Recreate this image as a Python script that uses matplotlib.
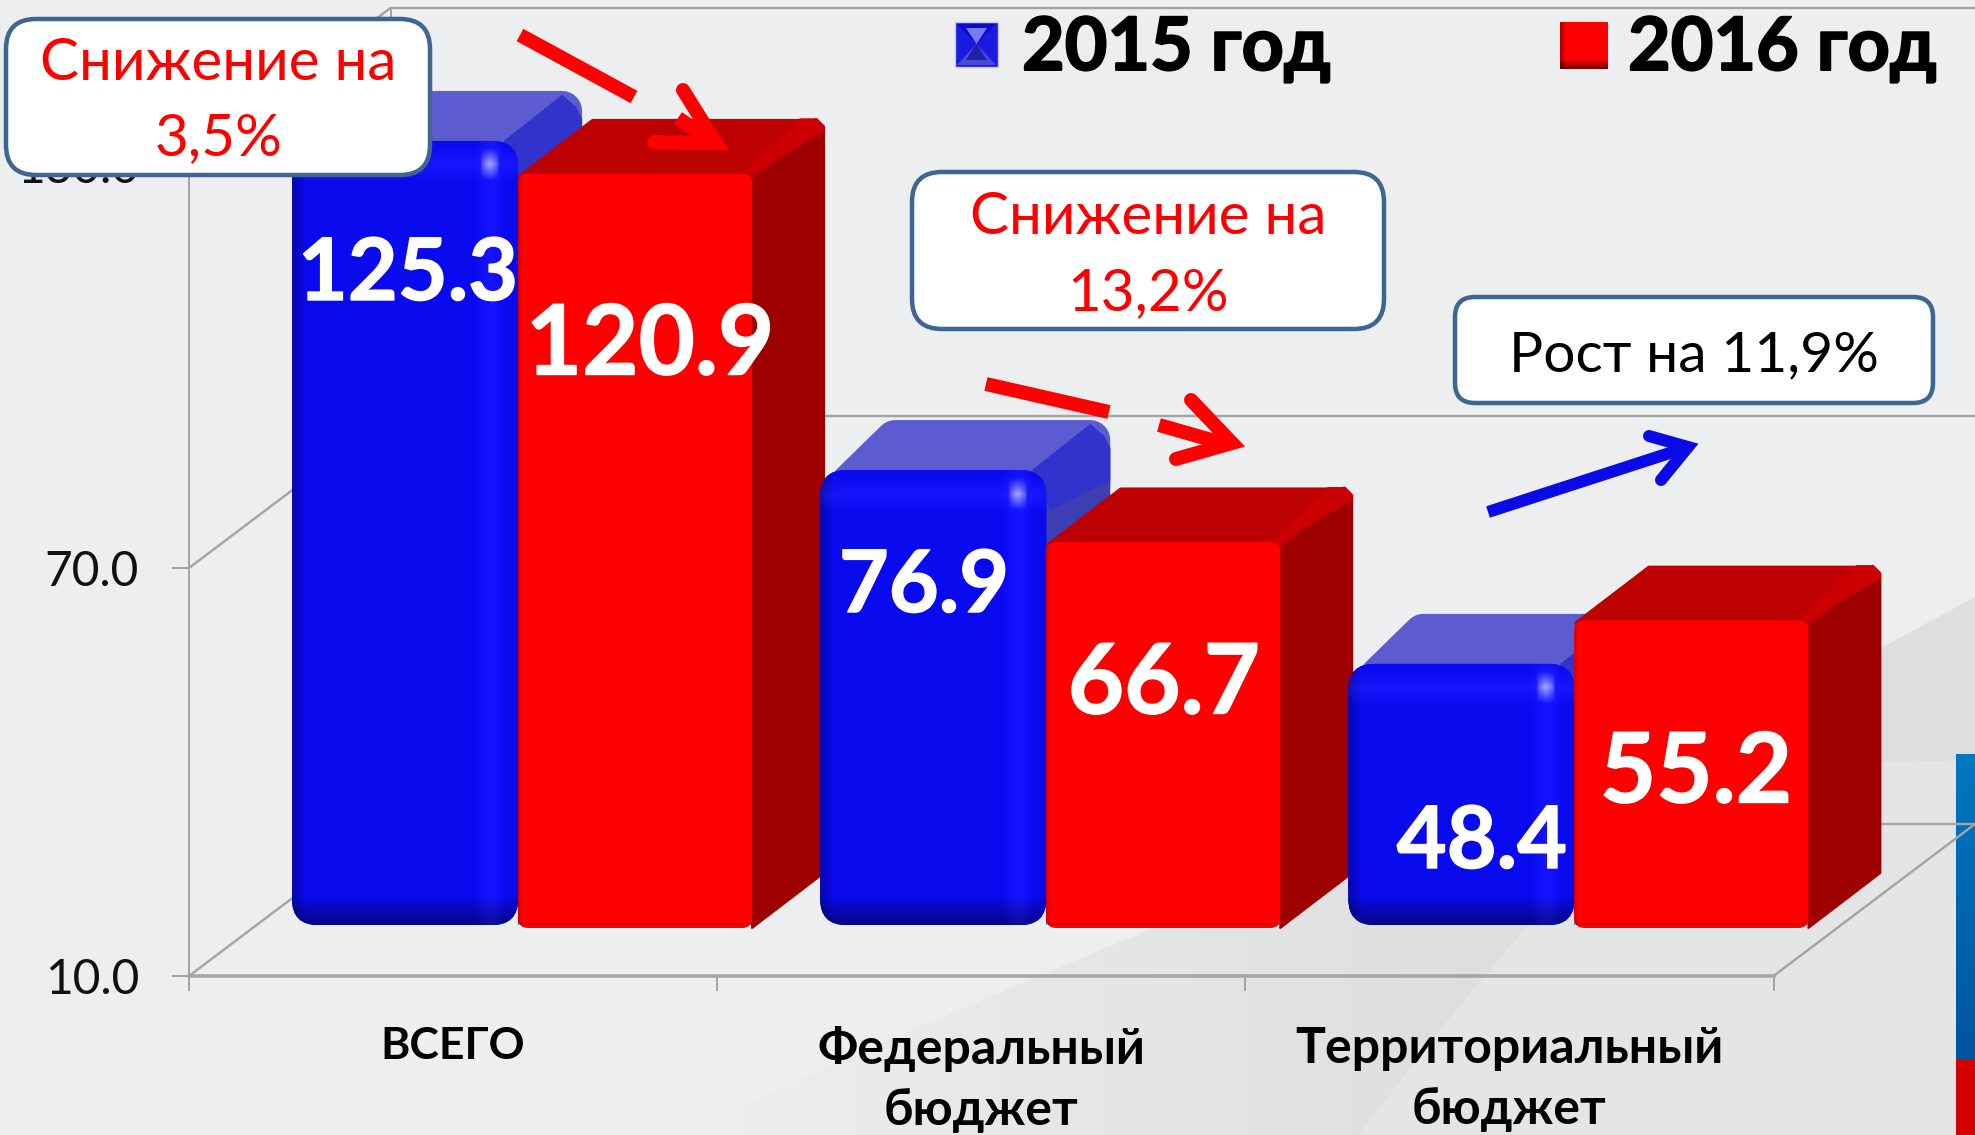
import numpy as np
import matplotlib
matplotlib.use("Agg")
import matplotlib.pyplot as plt
import matplotlib.patheffects as pe
from matplotlib.patches import FancyBboxPatch, Polygon, Rectangle
from matplotlib.transforms import Affine2D

# ---- data ----
categories = ["ВСЕГО", "Федеральный\nбюджет", "Территориальный\nбюджет"]
values_2015 = [125.3, 76.9, 48.4]
values_2016 = [120.9, 66.7, 55.2]
series_names = ["2015 год", "2016 год"]
y_ticks = [10.0, 70.0, 130.0]
callout_lines = ["Снижение на\n3,5%", "Снижение на\n13,2%", "Рост на 11,9%"]

# ---- layout (pixels of the 1975x1135 picture) ----
W, H = 1975, 1135
FL, FR, FB, FT = 189.0, 1773.5, 976.0, 160.0     # front plane of the 3D box
SHIFT_X, SHIFT_Y = 65.0, 51.0                    # bars stand this deep on the floor
BOX_DX, BOX_DY = 201.5, 152.0                    # depth of the 3D box
XU = (FR - FL) / 3.0
YU = (FB - FT) / 120.0
BASE = 10.0
W15 = 0.428
W16 = 0.443
px = 0.72  # points per pixel at dpi 100

plt.rcParams["font.family"] = ["Lato", "Noto Sans", "DejaVu Sans"]
BG = "#edeef0"
LINE = "#a3a4a6"

fig = plt.figure(figsize=(W / 100, H / 100), dpi=100, facecolor=BG)

def pos(l, r, b, t):
    return [l / W, (H - b) / H, (r - l) / W, (b - t) / H]

# ---- background ----
bg = fig.add_axes([0, 0, 1, 1], zorder=0)
bg.set_xlim(0, W); bg.set_ylim(H, 0); bg.axis("off")
upper = [(679, 1135), (900, 1035), (1153, 928), (1500, 790), (1881, 648), (1975, 597)]
lower = [(1359, 1135), (1440, 1030), (1530, 923), (1700, 815), (1881, 763), (1975, 760)]
ramp_x = np.linspace(0, 1, 256)
c0, c1 = np.array([0xed, 0xee, 0xf0]) / 255, np.array([0xdd, 0xde, 0xe0]) / 255
ramp = np.clip((ramp_x * W - 700) / 800, 0, 1)
grad = (c0[None, :] * (1 - ramp[:, None]) + c1[None, :] * ramp[:, None])[None, :, :]
band = Polygon(upper + lower[::-1], fc="none", ec="none", transform=bg.transData)
bg.add_patch(band)
gi = bg.imshow(grad, extent=[0, W, H, 0], aspect="auto", zorder=1)
gi.set_clip_path(band)
bg.add_patch(Polygon(lower + [(W, H)], fc="#e4e5e7", ec="none", zorder=1))
strip = np.linspace(0, 1, 64).reshape(-1, 1)
strip_rgb = np.dstack([0 * strip + 0.0, 0.47 - 0.14 * strip, 0.76 - 0.14 * strip])
bg.imshow(strip_rgb, extent=[1956, W, 1060, 754], aspect="auto", zorder=3)
bg.add_patch(Rectangle((1956, 1060), 19, 75, fc="#d40000", ec="none", zorder=3))
bg.set_xlim(0, W); bg.set_ylim(H, 0)

# ---- 3D frame with real axis ticks ----
ax = fig.add_axes(pos(FL, FR, FB, FT), zorder=1)
ax.patch.set_alpha(0)
ax.set_xlim(0, 3); ax.set_ylim(10, 130)
for s in ("top", "right"):
    ax.spines[s].set_visible(False)
ax.spines["left"].set_color(LINE); ax.spines["left"].set_linewidth(2 * px)
ax.spines["bottom"].set_color(LINE); ax.spines["bottom"].set_linewidth(3.5 * px)
ax.set_yticks(y_ticks)
ax.set_yticklabels([f"{v:.1f}" for v in y_ticks], fontsize=34.5, color="#111111")
ax.tick_params(axis="y", length=17 * px, width=2 * px, color=LINE, pad=33 * px)
ax.set_xticks([0.5, 1.5, 2.5])
ax.set_xticklabels(categories, fontsize=36, fontweight="bold", color="black", linespacing=1.42)
ax.get_xticklabels()[0].set_fontsize(32)
ax.set_xticks([0, 1, 2, 3], minor=True)
ax.tick_params(axis="x", which="major", length=0, pad=50 * px)
ax.tick_params(axis="x", which="minor", length=15 * px, width=2 * px, color=LINE)
top_label = ax.get_yticklabels()[2]
top_label.set_transform(top_label.get_transform() + Affine2D().translate(0, -5))
ddx, ddy = BOX_DX / XU, BOX_DY / YU
for v in y_ticks:
    ax.plot([0, ddx, 3.0 + 2 * ddx], [v, v + ddy, v + ddy], color=LINE, lw=2.4 * px, clip_on=False)
ax.plot([3, 3 + ddx], [10, 10 + ddy], color=LINE, lw=2.4 * px, clip_on=False)
ax.plot([ddx, ddx], [10 + ddy, 130 + ddy], color=LINE, lw=2 * px, clip_on=False)

# ---- bars ----
bx = fig.add_axes(pos(FL + SHIFT_X, FR + SHIFT_X, FB - SHIFT_Y, FT - SHIFT_Y), zorder=2)
bx.patch.set_alpha(0); bx.axis("off")
bx.set_xlim(0, 3); bx.set_ylim(10, 130)
bx.autoscale(False)
ASPECT = XU / YU
red_tr = Affine2D().translate(0, -3 / YU) + bx.transData

def rounded(l, r, top, rad, color, z, **kw):
    p = FancyBboxPatch((l, BASE), r - l, top - BASE,
                       boxstyle=f"round,pad=0,rounding_size={rad / XU}",
                       mutation_aspect=ASPECT, fc=color, ec="none", zorder=z, clip_on=False, **kw)
    bx.add_patch(p)
    return p

def shade(width_px, height_px, base, left, right_glow, bottom, top_glow, spot):
    w, h = int(width_px), int(height_px)
    xx, yy = np.meshgrid(np.arange(w) + 0.5, np.arange(h) + 0.5)
    img = np.ones((h, w, 3)) * np.array(base)
    f = np.ones((h, w))
    f *= 1 - left[0] * np.clip(1 - xx / left[1], 0, 1)
    f *= 1 - bottom[0] * np.clip(1 - (h - yy) / bottom[1], 0, 1)
    img *= f[..., None]
    if right_glow:
        g = np.clip(1 - np.abs((w - xx) - 28) / 16, 0, 1) * 0.04
        img[..., 0] += g; img[..., 1] += g
        img[..., 2] += g * 2
    if top_glow:
        g = np.clip(1 - np.abs(yy - 24) / 18, 0, 1) * 0.05
        img[..., 0] += g; img[..., 1] += g
        img[..., 2] += g
    if spot:
        g = np.clip(1 - np.abs(xx - (w - 29)) / 9, 0, 1) ** 0.5 * np.clip(1 - np.abs(yy - 24) / 16, 0, 1) * 0.6
        img = img + (1 - img) * g[..., None]
    return np.clip(img, 0, 1)

z = 5
xs = np.arange(len(categories)) + 0.5
for i, (x0, v15, v16) in enumerate(zip(xs, values_2015, values_2016)):
    # 2015 series: rounded glossy bar
    l, r = x0 - W15, x0
    dx, dy = 64 / XU, 50 / YU
    R = 20
    top_poly = [(l + 30 / XU, v15 - 14 / YU), (l + 75 / XU, v15 + (50 - R) / YU),
                (r + dx - R / XU, v15 + (50 - R) / YU), (r + dx - R / XU, v15 - 14 / YU)]
    bx.add_patch(Polygon(top_poly, fc="#5c5cd0", ec="#5c5cd0", lw=2 * R * px, joinstyle="round", zorder=z, clip_on=False))
    side = [(r - 14 / XU, v15), (r + dx - 20 / XU, v15 + 46 / YU), (r + dx - 6 / XU, v15 + 34 / YU),
            (r + dx, v15 + 22 / YU), (r + dx, BASE + dy), (r, BASE)]
    bx.add_patch(Polygon(side, fc="#3d3db4", ec="none", zorder=z + 1, clip_on=False))
    bx.add_patch(Polygon([(r - 14 / XU, v15), (r + dx - 20 / XU, v15 + 46 / YU), (r + dx - 6 / XU, v15 + 34 / YU),
                          (r + dx, v15 + 22 / YU), (r + dx, v15 - 10 / YU), (r + 4 / XU, v15 - 40 / YU)],
                         fc="#3232cc", ec="none", zorder=z + 1, clip_on=False))
    clip = rounded(l, r, v15, 26, "#0a0af0", z + 2)
    bar = bx.bar(x0 - W15 / 2, v15 - BASE, W15, bottom=BASE, color="#0a0af0", zorder=z + 3, label=series_names[0])[0]
    bar.set_clip_path(clip)
    im = bx.imshow(shade((r - l) * XU, (v15 - BASE) * YU, (0.04, 0.04, 0.94), (0.3, 14), True, (0.45, 30), True, True),
                   extent=[l, r, BASE, v15], aspect="auto", zorder=z + 4, interpolation="bilinear")
    im.set_clip_path(clip)
    # 2016 series: box bar
    l, r = x0, x0 + W16
    dx, dy = 72 / XU, 55 / YU
    bx.add_patch(Polygon([(r, BASE), (r + dx, BASE + dy), (r + dx, v16 + dy - 8 / YU), (r + dx - 8 / XU, v16 + dy), (r, v16)],
                         fc="#9e0000", ec="#9e0000", lw=2 * px, joinstyle="round", zorder=z + 5,
                         clip_on=False, transform=red_tr))
    bx.add_patch(Polygon([(l + 3 / XU, v16 - 3 / YU), (l + dx + 3 / XU, v16 + dy - 3 / YU), (r + dx - 8 / XU, v16 + dy - 3 / YU), (r, v16 - 3 / YU)],
                         fc="#bd0000", ec="#bd0000", lw=6 * px, joinstyle="round", zorder=z + 6,
                         clip_on=False, transform=red_tr))
    bx.add_patch(Polygon([(r - 10 / XU, v16), (r + dx - 24 / XU, v16 + dy), (r + dx - 7 / XU, v16 + dy), (r + dx, v16 + dy - 7 / YU), (r + dx, v16 + dy - 12 / YU), (r, v16)],
                         fc="#cc0000", ec="#cc0000", lw=1 * px, zorder=z + 7, clip_on=False, transform=red_tr))
    clip2 = rounded(l, r, v16, 10, "#ff0000", z + 8, transform=red_tr)
    bar2 = bx.bar(x0 + W16 / 2, v16 - BASE, W16, bottom=BASE, color="#ff0000", zorder=z + 9,
                  label=series_names[1], transform=red_tr)[0]
    bar2.set_clip_path(clip2)
    im2 = bx.imshow(shade((r - l) * XU, (v16 - BASE) * YU, (1.0, 0.0, 0.0), (0.2, 4), False, (0.45, 6), False, False),
                    extent=[l, r, BASE, v16], aspect="auto", zorder=z + 10, interpolation="bilinear", transform=red_tr)
    im2.set_clip_path(clip2)
    z += 11
bx.set_xlim(0, 3); bx.set_ylim(10, 130)

# ---- overlay: labels, callouts, arrows, legend ----
ov = fig.add_axes([0, 0, 1, 1], zorder=3)
ov.patch.set_alpha(0); ov.axis("off")
ov.set_xlim(0, W); ov.set_ylim(H, 0)

thick_white = [pe.withStroke(linewidth=1.0, foreground="white")]
thick_black = [pe.withStroke(linewidth=1.4, foreground="black")]
label_xy_15 = [(408, 268), (924, 580), (1482, 836)]
label_xy_16 = [(650, 338), (1164, 677), (1696, 766)]
for v, (lx, ly) in zip(values_2015, label_xy_15):
    ov.text(lx, ly, f"{v:.1f}", color="white", fontsize=62, fontweight="bold", ha="center", va="center_baseline",
            path_effects=thick_white)
for v, (lx, ly) in zip(values_2016, label_xy_16):
    ov.text(lx, ly, f"{v:.1f}", color="white", fontsize=70, fontweight="bold", ha="center", va="center_baseline",
            path_effects=thick_white)

boxes = [(6, 430, 19, 175, 30), (912, 1384, 172, 329, 30), (1455, 1933, 297, 403, 20)]
text_xy = [[(218, 64), (218, 139)], [(1148, 217), (1148, 294)], [(1694, 356)]]
text_col = ["#ff0000", "#ff0000", "#000000"]
for (l, r, t_, b, rad), s, pts, c in zip(boxes, callout_lines, text_xy, text_col):
    ov.add_patch(FancyBboxPatch((l, t_), r - l, b - t_, boxstyle=f"round,pad=0,rounding_size={rad}",
                                fc="white", ec="#3f6592", lw=4.5 * px, zorder=5))
    for line, (tx, ty) in zip(s.split("\n"), pts):
        ov.text(tx, ty, line, color=c, fontsize=42 if c == "#ff0000" else 41, ha="center", va="center", zorder=6)

def stroke(pts, color, w, cap="butt"):
    a = np.array(pts, float)
    ov.plot(a[:, 0], a[:, 1], color=color, lw=w * px, solid_capstyle=cap, solid_joinstyle="miter", zorder=4)

RED, BLUE = "#ff0000", "#0a0ae6"
stroke([(520, 35), (634, 97)], RED, 14)
stroke([(683, 90), (716, 143), (654, 142)], RED, 14, "round")
stroke([(678, 118), (708, 138)], RED, 14)
stroke([(986, 384), (1109, 412)], RED, 14)
stroke([(1191, 400), (1232, 443), (1176, 459)], RED, 14, "round")
stroke([(1159, 425), (1222, 443)], RED, 14)
stroke([(1488, 512), (1682, 449)], BLUE, 12)
stroke([(1649, 436), (1688, 447), (1661, 480)], BLUE, 12, "round")

# legend
ov.add_patch(Rectangle((955, 22), 43, 45, fc="#1a1ae0", ec="#c8c8f0", lw=1, zorder=4))
ov.add_patch(Polygon([(957, 24), (996, 24), (976.5, 44)], fc="#0a0acc", zorder=5))
ov.add_patch(Polygon([(957, 65), (996, 65), (976.5, 44)], fc="#4a4ad8", zorder=5))
ov.add_patch(Polygon([(966, 28), (987, 28), (976.5, 44)], fc="#7a7af0", zorder=6))
ov.add_patch(Polygon([(966, 60), (987, 60), (976.5, 44)], fc="#2020a8", zorder=6))
ov.imshow(shade(48, 47, (1.0, 0.0, 0.0), (0.35, 6), False, (0.55, 10), False, False),
          extent=[1560, 1608, 69, 22], aspect="auto", zorder=4)
ov.set_xlim(0, W); ov.set_ylim(H, 0)
ov.text(1022, 70, series_names[0], fontsize=53, fontweight="bold", color="black", ha="left", va="baseline", path_effects=thick_black)
ov.text(1628, 70, series_names[1], fontsize=53, fontweight="bold", color="black", ha="left", va="baseline", path_effects=thick_black)

fig.savefig("out.png", dpi=100, facecolor=BG)
